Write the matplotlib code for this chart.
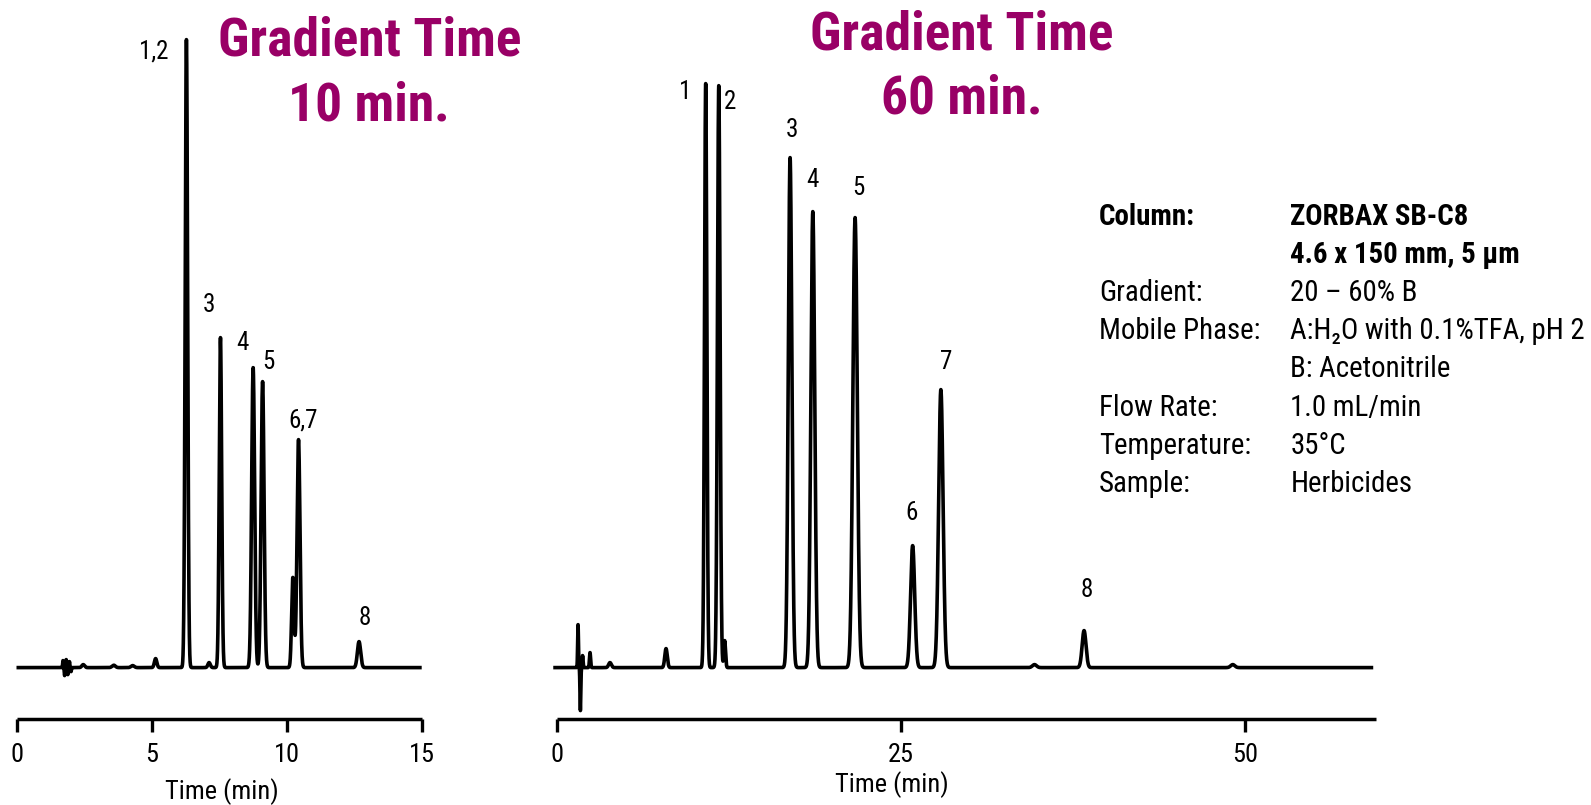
import numpy as np
import matplotlib
matplotlib.use("Agg")
import matplotlib.pyplot as plt
from matplotlib import font_manager as fm

# ---------------- fonts ----------------
_names = {f.name for f in fm.fontManager.ttflist}
COND = None
for cand in ["Liberation Sans Narrow", "Roboto Condensed", "Open Sans Condensed",
             "DejaVu Sans Condensed"]:
    if cand in _names:
        COND = cand
        break
STRETCH = "normal"
if COND is None:
    COND = "DejaVu Sans"
    STRETCH = "condensed"
FAM = [COND, "DejaVu Sans"]
plt.rcParams["font.family"] = FAM

# ---------------- data ----------------
# Gradient time 10 min: retention time (min), peak height (relative response), peak sigma (min)
t10 = [6.29, 7.55, 8.76, 9.11, 10.23, 10.44, 12.68,
       5.15, 7.13, 2.47, 3.60, 4.30,
       1.72, 1.78, 1.84, 1.90, 1.96, 2.02]
h10 = [314, 165, 150, 143, 45, 114, 13,
       4.5, 2.5, 1.5, 1.2, 1.0,
       3.5, -4.0, 4.0, -3.5, 3.0, -2.0]
s10 = [0.045, 0.045, 0.055, 0.055, 0.045, 0.055, 0.060,
       0.045, 0.045, 0.05, 0.06, 0.06,
       0.012, 0.012, 0.012, 0.012, 0.012, 0.012]

# Gradient time 60 min
t60 = [10.82, 11.77, 16.95, 18.60, 21.67, 25.85, 27.90, 38.30,
       7.94, 12.20, 2.42, 3.87, 34.70, 49.10,
       1.55, 1.72, 1.88]
h60 = [292, 291, 255, 228, 225, 61, 139, 18.5,
       9.5, 13.5, 7.5, 2.5, 1.5, 1.5,
       21.5, -21.5, 6.0]
s60 = [0.085, 0.095, 0.13, 0.14, 0.16, 0.15, 0.16, 0.14,
       0.09, 0.06, 0.04, 0.10, 0.15, 0.15,
       0.030, 0.030, 0.030]

labels10 = ["1,2", "3", "4", "5", "6,7", "8"]
lab10_x = [5.09, 7.13, 8.38, 9.31, 10.61, 12.90]
lab10_y = [307.8, 181.3, 162.3, 152.8, 123.8, 24.8]

labels60 = ["1", "2", "3", "4", "5", "6", "7", "8"]
lab60_x = [9.32, 12.58, 17.07, 18.59, 21.88, 25.78, 28.32, 38.51]
lab60_y = [287.8, 282.8, 268.8, 243.8, 239.8, 77.3, 152.9, 38.8]

ticks10 = [0, 5, 10, 15]
ticks60 = [0, 25, 50]

info_keys = ["Column:", "", "Gradient:", "Mobile Phase:", "", "Flow Rate:",
             "Temperature:", "Sample:"]
info_vals = ["ZORBAX SB-C8", "4.6 x 150 mm, 5 \u03bcm", "20 \u2013 60% B",
             "A:H\u2082O with 0.1%TFA, pH 2", "B: Acetonitrile", "1.0 mL/min",
             "35\u00b0C", "Herbicides"]
info_bold = [True, True, False, False, False, False, False, False]

MAGENTA = "#990066"

# ---------------- figure ----------------
W, H = 1591, 805
fig = plt.figure(figsize=(W / 100, H / 100), dpi=100)

BASE_PX = 667.6
SPINE_PX = 718.6
TOP_PX = 10.0
UNIT_PX = 2.0
ylo = -(SPINE_PX - BASE_PX) / UNIT_PX
yhi = (BASE_PX - TOP_PX) / UNIT_PX

FS_TICK = 19
FS_LAB = 18


def make_axes(x0px, x1px):
    ax = fig.add_axes([x0px / W, (H - SPINE_PX) / H, (x1px - x0px) / W,
                       (SPINE_PX - TOP_PX) / H])
    for s in ["left", "right", "top"]:
        ax.spines[s].set_visible(False)
    ax.spines["bottom"].set_linewidth(2.5)
    ax.spines["bottom"].set_capstyle("butt")
    ax.set_yticks([])
    ax.tick_params(axis="x", direction="out", length=9.5, width=2.4,
                   labelsize=FS_TICK, pad=8)
    ax.set_ylim(ylo, yhi)
    ax.patch.set_alpha(0)
    return ax


def trace(t, tr, hs, ss):
    y = np.zeros_like(t)
    for t0, h, s in zip(tr, hs, ss):
        y += h * np.exp(-0.5 * ((t - t0) / s) ** 2)
    return y


# Left panel
axL = make_axes(16.5, 421.7)
axL.set_xlim(0, 15)
tL = np.linspace(0, 15, 8000)
axL.plot(tL, trace(tL, t10, h10, s10), color="black", lw=2.6,
         solid_joinstyle="round", solid_capstyle="butt", clip_on=False)
axL.set_xticks(ticks10)
axL.set_xticklabels([str(v) for v in ticks10])
axL.set_xlabel("Time (min)", fontsize=FS_TICK)
axL.xaxis.set_label_coords(0.508, (SPINE_PX - 792) / (SPINE_PX - TOP_PX))
axL.xaxis.label.set_va("center")
for lab, x, y in zip(labels10, lab10_x, lab10_y):
    axL.text(x, y, lab, ha="center", va="center", fontsize=FS_LAB)

# Right panel
axR = make_axes(556.7, 1375.7)
axR.set_xlim(0, 59.48)
tR = np.linspace(-0.25, 59.3, 16000)
axR.plot(tR, trace(tR, t60, h60, s60), color="black", lw=2.6,
         solid_joinstyle="round", solid_capstyle="butt", clip_on=False)
axR.set_xticks(ticks60)
axR.set_xticklabels([str(v) for v in ticks60])
axR.set_xlabel("Time (min)", fontsize=FS_TICK)
axR.xaxis.set_label_coords((891.7 - 556.7) / (1375.7 - 556.7),
                           (SPINE_PX - 785) / (SPINE_PX - TOP_PX))
axR.xaxis.label.set_va("center")
for lab, x, y in zip(labels60, lab60_x, lab60_y):
    axR.text(x, y, lab, ha="center", va="center", fontsize=FS_LAB)

for ax in (axL, axR):
    for lbl in ax.get_xticklabels():
        lbl.set_fontstretch(STRETCH)


# Titles
def fig_text(xpx, ypx, s, **kw):
    fig.text(xpx / W, 1 - ypx / H, s, **kw)


tkw = dict(ha="center", va="baseline", fontsize=38.5, fontweight="bold",
           color=MAGENTA, fontstretch=STRETCH)
fig_text(370, 55, "Gradient Time", **tkw)
fig_text(369, 120, "10 min.", **tkw)
fig_text(962, 50, "Gradient Time", **tkw)
fig_text(962, 114, "60 min.", **tkw)

# Info block
y0 = 224.5
dy = 38.2
for i, (k, v, b) in enumerate(zip(info_keys, info_vals, info_bold)):
    yy = y0 + i * dy
    wgt = "bold" if b else "normal"
    if k:
        fig_text(1099, yy, k, ha="left", va="baseline", fontsize=20.8,
                 fontweight=wgt, fontstretch=STRETCH)
    fig_text(1290.5, yy, v, ha="left", va="baseline", fontsize=20.8,
             fontweight=wgt, fontstretch=STRETCH)

fig.savefig("out.png", dpi=100)
